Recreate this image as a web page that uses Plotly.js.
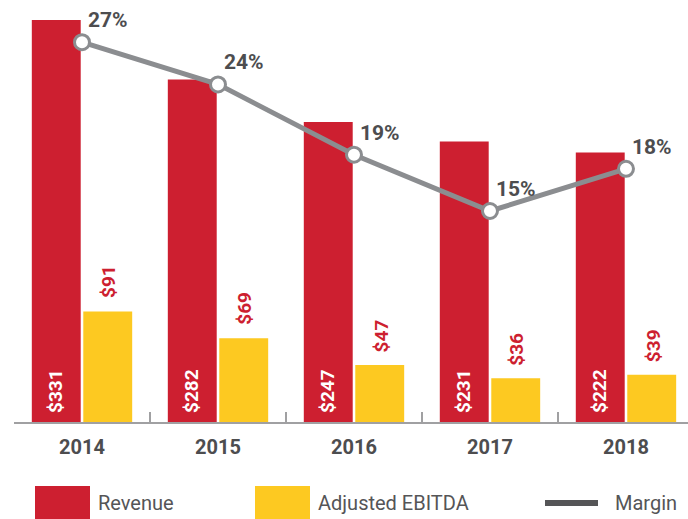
<!DOCTYPE html>
<html>
<head>
<meta charset="utf-8">
<script src="https://cdn.plot.ly/plotly-3.0.1.min.js"></script>
<style>html,body{margin:0;padding:0;background:#fff;}#chart{width:688px;height:519px;}</style>
</head>
<body>
<div id="chart"></div>
<script>
// ---- data ----
var years = ['2014', '2015', '2016', '2017', '2018'];
var revenue = [331, 282, 247, 231, 222];
var ebitda = [91, 69, 47, 36, 39];
var margin = [27, 24, 19, 15, 18];
var seriesNames = ['Revenue', 'Adjusted EBITDA', 'Margin'];

// ---- styles ----
var RED = '#cd1f30', YEL = '#fdc921', LINE = '#8b8d90', TXT = '#4d4d4f';
var FONT = 'Roboto, "Open Sans", sans-serif';
var L = 14, PW = 674, PH = 422;
function px(x) { return (x - L) / PW; }
function py(y) { return (PH - y) / PH; }

var traces = [
  { type: 'bar', name: seriesNames[0], x: years, y: revenue, marker: { color: RED }, hoverinfo: 'none' },
  { type: 'bar', name: seriesNames[1], x: years, y: ebitda, marker: { color: YEL }, hoverinfo: 'none' },
  { type: 'scatter', mode: 'lines+markers', name: seriesNames[2], x: years, y: margin, yaxis: 'y2',
    line: { color: LINE, width: 5 },
    marker: { size: 15, color: '#ffffff', line: { color: LINE, width: 3 } },
    cliponaxis: false, hoverinfo: 'none' }
];

var ann = [];
years.forEach(function (yr, i) {
  // category axis: annotation x is the category index
  ann.push({ x: i, y: 0, xref: 'x', yref: 'y', xshift: -27, yshift: 7, yanchor: 'bottom', xanchor: 'center',
    text: '<b>$' + revenue[i] + '</b>', textangle: -90, showarrow: false,
    font: { family: FONT, size: 19, color: '#ffffff' } });
  ann.push({ x: i, y: ebitda[i], xref: 'x', yref: 'y', xshift: 27, yshift: 11, yanchor: 'bottom', xanchor: 'center',
    text: '<b>$' + ebitda[i] + '</b>', textangle: -90, showarrow: false,
    font: { family: FONT, size: 19, color: RED } });
  ann.push({ x: i, y: margin[i], xref: 'x', yref: 'y2', xshift: 4, yshift: 8, yanchor: 'bottom', xanchor: 'left',
    text: '<b>' + margin[i] + '%</b>', showarrow: false,
    font: { family: FONT, size: 21, color: TXT } });
});

// manual legend
var legendText = [
  { x: 96, t: seriesNames[0] },
  { x: 316, t: seriesNames[1] },
  { x: 613, t: seriesNames[2] }
];
legendText.forEach(function (d) {
  ann.push({ x: px(d.x), y: py(503), xref: 'paper', yref: 'paper', xanchor: 'left', yanchor: 'middle',
    text: d.t, showarrow: false, font: { family: FONT, size: 20, color: '#555557' } });
});

var shapes = [
  { type: 'rect', xref: 'paper', yref: 'paper', x0: px(35), x1: px(90), y0: py(486), y1: py(519), fillcolor: RED, line: { width: 0 } },
  { type: 'rect', xref: 'paper', yref: 'paper', x0: px(255), x1: px(310), y0: py(486), y1: py(519), fillcolor: YEL, line: { width: 0 } },
  { type: 'line', xref: 'paper', yref: 'paper', x0: px(545), x1: px(598), y0: py(503), y1: py(503), line: { color: '#555557', width: 6 } }
];

var hiddenAxis = { showline: false, showgrid: false, zeroline: false, showticklabels: false, ticks: '' };

var layout = {
  width: 688, height: 519,
  margin: { l: L, r: 0, t: 0, b: 519 - PH, pad: 0 },
  paper_bgcolor: '#ffffff', plot_bgcolor: '#ffffff',
  showlegend: false,
  barmode: 'group', bargap: 0.243, bargroupgap: 0.05,
  xaxis: {
    type: 'category', range: [-0.5, 4.456],
    showline: true, linecolor: '#a0a0a2', linewidth: 2,
    ticks: 'inside', tickson: 'boundaries', ticklen: 10, tickwidth: 1.5, tickcolor: '#a0a0a2',
    showgrid: false, zeroline: false,
    tickfont: { family: FONT, size: 20, color: TXT, weight: 700 },
    ticklabelstandoff: 6
  },
  yaxis: Object.assign({ range: [0, 347.5] }, hiddenAxis),
  yaxis2: Object.assign({ range: [0, 30], overlaying: 'y' }, hiddenAxis),
  annotations: ann,
  shapes: shapes
};

Plotly.newPlot('chart', traces, layout, { displayModeBar: false, staticPlot: true });
</script>
</body>
</html>
